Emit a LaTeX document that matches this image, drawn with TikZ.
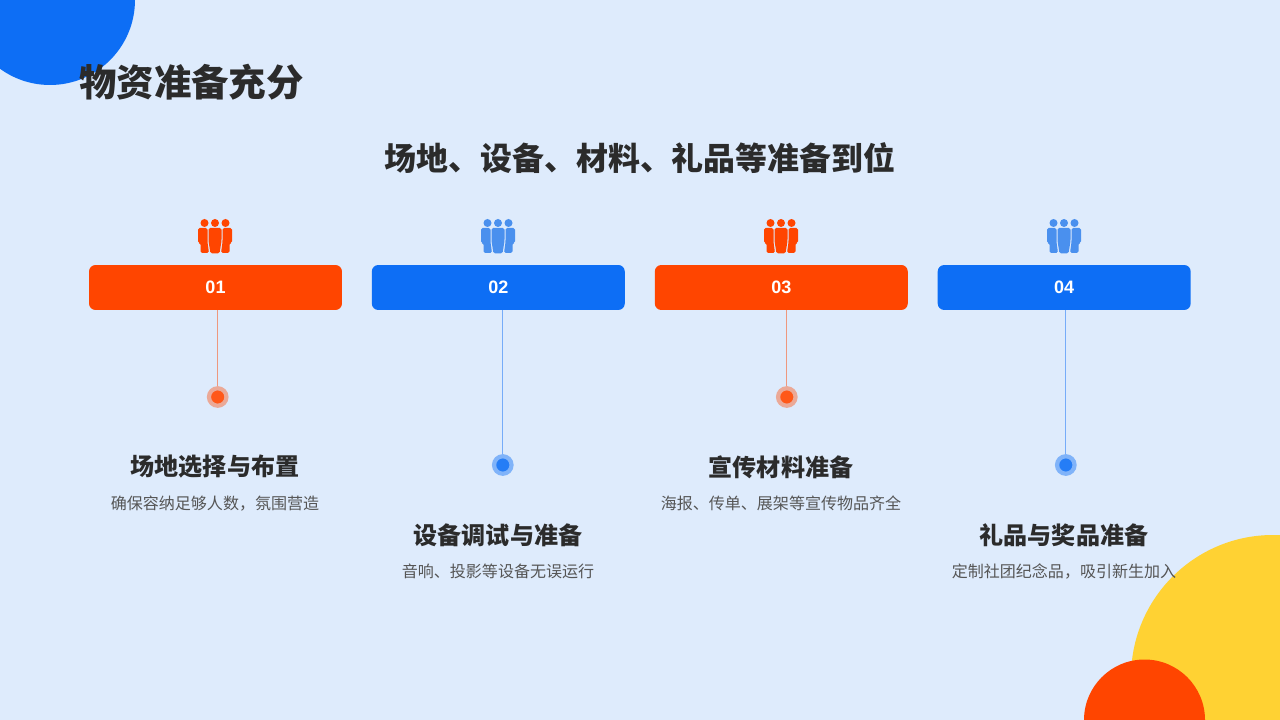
\documentclass[tikz,border=0pt]{standalone}
\usepackage{fontspec}
\setmainfont{Liberation Sans}
\newfontfamily\cjk{Noto Sans CJK SC}
\definecolor{pagebg}{HTML}{DEEBFC}
\definecolor{mainred}{HTML}{FF4500}
\definecolor{mainblue}{HTML}{0D6EF5}
\definecolor{iconblue}{HTML}{4A90EE}
\definecolor{mainyellow}{HTML}{FFD233}
\definecolor{darktext}{HTML}{2B2B2B}
\definecolor{softtext}{HTML}{555555}
\tikzset{
  bar/.style={rectangle,rounded corners=6.5pt*0.711,minimum width=253*0.711pt,minimum height=45*0.711pt,inner sep=0pt,text=white,font=\fontsize{12.8}{15}\selectfont\bfseries},
  dot/.style={circle,inner sep=0pt,minimum size=17.5*0.711pt,line width=4.2*0.711pt},
  head/.style={inner sep=0pt,text=darktext,font=\cjk\fontsize{17.1}{20}\selectfont\bfseries},
  desc/.style={inner sep=0pt,text height=11pt,text depth=2.5pt,text=softtext,font=\cjk\fontsize{11.4}{14}\selectfont},
  people/.pic={
    \fill (-10.5,-14) circle[radius=4];
    \fill (0,-14) circle[radius=4];
    \fill (10.5,-14) circle[radius=4];
    \fill[rounded corners=1.2pt] (-17,-9) -- (-7.5,-9) -- (-7.5,5) -- (-6,16) -- (-14.5,16) -- (-14.5,6) -- (-17,6) -- cycle;
    \fill[rounded corners=1.2pt] (17,-9) -- (7.5,-9) -- (7.5,5) -- (6,16) -- (14.5,16) -- (14.5,6) -- (17,6) -- cycle;
    \fill[rounded corners=1.2pt] (-6.5,-9) -- (6.5,-9) -- (6.5,4) -- (4.5,16.5) -- (-4.5,16.5) -- (-6.5,4) -- cycle;
  }
}
\begin{document}
\begin{tikzpicture}[x=0.025cm,y=-0.025cm]
    \useasboundingbox (0,0) rectangle (1280,720);
    \clip (0,0) rectangle (1280,720);
    \fill[pagebg] (0,0) rectangle (1280,720);
    % corners
    \fill[mainblue] (50,0) circle[radius=85];
    \fill[mainyellow] (1273,677) circle[radius=142];
    \fill[mainred] (1144.5,720) circle[radius=60.5];
    % titles
    \node[inner sep=0pt,anchor=west,text=darktext,font=\cjk\fontsize{26.6}{30}\selectfont\bfseries] (title) at (79,82) {物资准备充分};
    \node[inner sep=0pt,text=darktext,font=\cjk\fontsize{22.7}{26}\selectfont\bfseries] (subtitle) at (640,158) {场地、设备、材料、礼品等准备到位};
    % bars
    \node[bar,fill=mainred] (bar1) at (215.5,287.5) {01};
    \node[bar,fill=mainblue] (bar2) at (498.3,287.5) {02};
    \node[bar,fill=mainred] (bar3) at (781.3,287.5) {03};
    \node[bar,fill=mainblue] (bar4) at (1064.2,287.5) {04};
    % icons
    \pic[mainred] at (215,237) {people};
    \pic[iconblue] at (498,237) {people};
    \pic[mainred] at (781,237) {people};
    \pic[iconblue] at (1064,237) {people};
    % dots
    \node[dot,fill=mainred!90!white,draw=mainred!40!pagebg] (dot1) at (217.7,397) {};
    \node[dot,fill=mainblue!90!white,draw=mainblue!45!pagebg] (dot2) at (502.8,465) {};
    \node[dot,fill=mainred!90!white,draw=mainred!40!pagebg] (dot3) at (786.8,397) {};
    \node[dot,fill=mainblue!90!white,draw=mainblue!45!pagebg] (dot4) at (1065.8,465) {};
    % stems
    \draw[mainred!50!pagebg,line width=0.8pt] (dot1) -- (dot1 |- bar1.south);
    \draw[mainblue!50!pagebg,line width=0.8pt] (dot2) -- (dot2 |- bar2.south);
    \draw[mainred!50!pagebg,line width=0.8pt] (dot3) -- (dot3 |- bar3.south);
    \draw[mainblue!50!pagebg,line width=0.8pt] (dot4) -- (dot4 |- bar4.south);
    % texts
    \node[head] (head1) at (215,467) {场地选择与布置};
    \node[desc] (desc1) at (215,504) {确保容纳足够人数，氛围营造};
    \node[head] (head2) at (498,535) {设备调试与准备};
    \node[desc] (desc2) at (498,572) {音响、投影等设备无误运行};
    \node[head] (head3) at (781,467) {宣传材料准备};
    \node[desc] (desc3) at (781,504) {海报、传单、展架等宣传物品齐全};
    \node[head] (head4) at (1064,535) {礼品与奖品准备};
    \node[desc] (desc4) at (1064,572) {定制社团纪念品，吸引新生加入};
\end{tikzpicture}
\end{document}
